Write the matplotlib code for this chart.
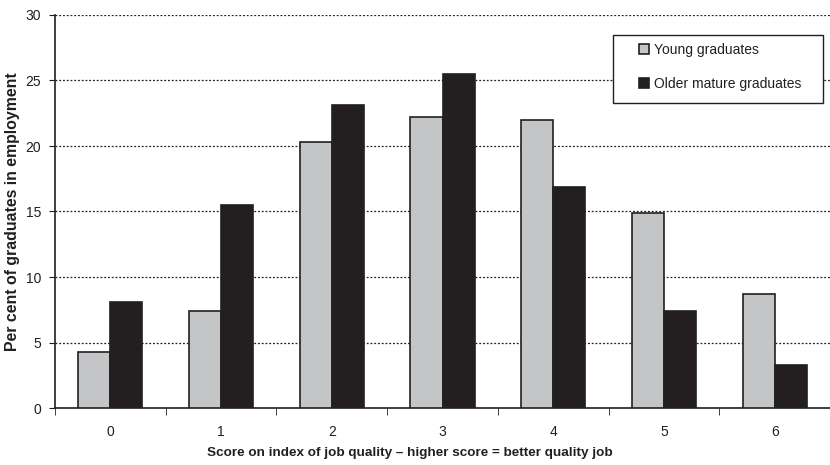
import numpy as np
import matplotlib
matplotlib.use('Agg')
import matplotlib.pyplot as plt
from matplotlib.patches import Patch, Rectangle

plt.rcParams['font.family'] = ['Liberation Sans', 'DejaVu Sans']

# Data
scores = ['0', '1', '2', '3', '4', '5', '6']
young = [4.3, 7.4, 20.3, 22.2, 22.0, 14.9, 8.7]
older = [8.1, 15.5, 23.1, 25.5, 16.9, 7.4, 3.3]

INK = '#231f20'
GREY = '#c4c5c7'
W, H = 830, 465

fig = plt.figure(figsize=(W / 100, H / 100), dpi=100)
ax = fig.add_axes([55 / W, 1 - 408 / H, 775 / W, 393 / H])

x = np.arange(len(scores))
w = 0.29
ax.bar(x - w / 2, young, w, color=GREY, edgecolor=INK, linewidth=1.2, zorder=3)
ax.bar(x + w / 2, older, w, color=INK, edgecolor=INK, linewidth=1.2, zorder=3)

ax.set_xlim(-0.5, len(scores) - 0.5)
ax.set_ylim(0, 30)
ax.set_yticks(range(0, 31, 5))
ax.set_xticks(x)
ax.set_xticklabels(scores)
ax.set_xticks(np.arange(-0.5, len(scores) + 0.5, 1), minor=True)
ax.tick_params(axis='x', which='major', length=0, pad=12, labelsize=10, colors=INK)
ax.tick_params(axis='x', which='minor', length=5, direction='out', color=INK)
ax.tick_params(axis='y', length=4, direction='out', labelsize=10, colors=INK, pad=6)

ax.yaxis.grid(True, linestyle=(0, (1.5, 1.5)), color=INK, linewidth=0.9, zorder=0)
ax.set_axisbelow(True)
for s in ['top', 'right']:
    ax.spines[s].set_visible(False)
for s in ['left', 'bottom']:
    ax.spines[s].set_color(INK)
    ax.spines[s].set_linewidth(1.2)

ax.set_ylabel('Per cent of graduates in employment', fontsize=11.4, fontweight='bold',
              color=INK)
ax.yaxis.set_label_coords(-43 / 775, 0.5)
ax.yaxis.label.set_va('center')
ax.set_xlabel('Score on index of job quality \u2013 higher score = better quality job',
              fontsize=9.7, fontweight='bold', color=INK)
ax.xaxis.set_label_coords((410 - 55) / 775, -(453 - 408) / 393)
ax.xaxis.label.set_va('center')

# legend box drawn separately so it can be wider than its contents
fig.add_artist(Rectangle((613 / W, 1 - 103 / H), 210 / W, 68 / H,
                         transform=fig.transFigure, facecolor='white',
                         edgecolor=INK, linewidth=1.0, zorder=5))
handles = [Patch(facecolor=GREY, edgecolor=INK, linewidth=1.2),
           Patch(facecolor=INK, edgecolor=INK, linewidth=1.2)]
leg = fig.legend(handles, ['Young graduates', 'Older mature graduates'],
                 loc='upper left', bbox_to_anchor=(639 / W, 1 - 43 / H),
                 frameon=False, fontsize=10, handlelength=0.75,
                 handleheight=0.75, handletextpad=0.35, labelspacing=1.45,
                 borderpad=0, borderaxespad=0)
for t in leg.get_texts():
    t.set_color(INK)
leg.set_zorder(6)

fig.savefig('out.png', dpi=100)
